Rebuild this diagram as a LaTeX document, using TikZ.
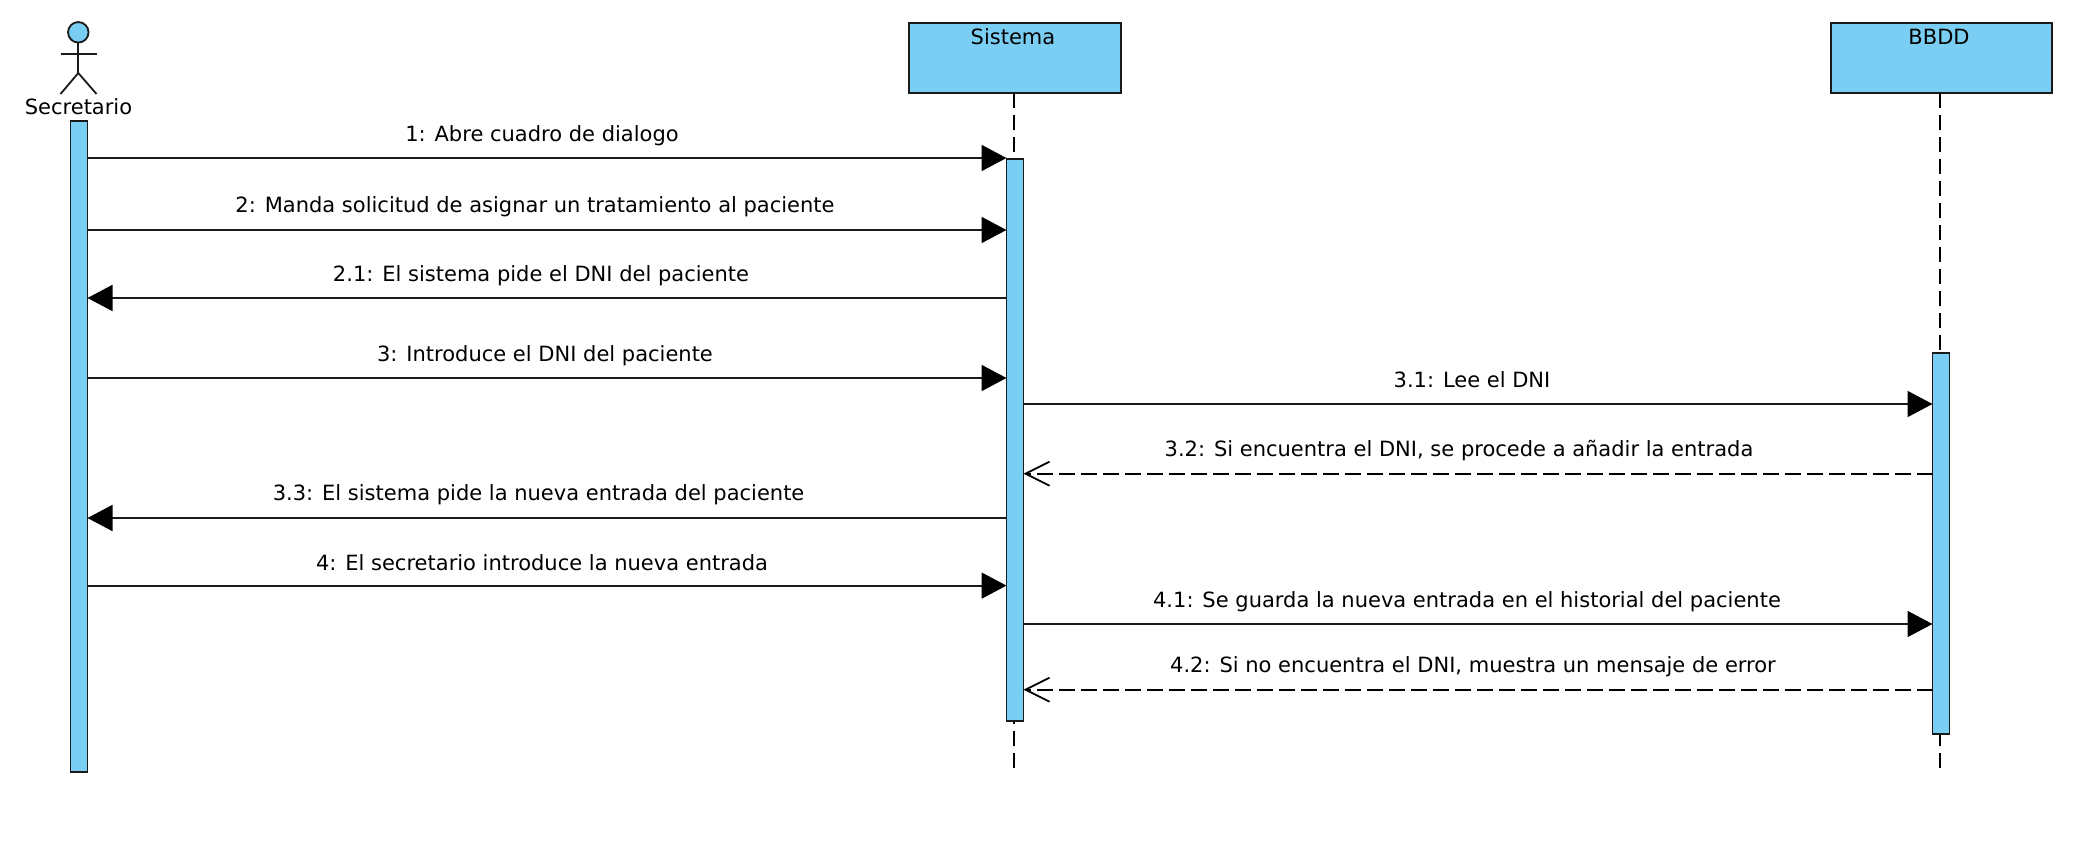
\documentclass[tikz,border=0pt]{standalone}
\usepackage{fontspec}
\setmainfont{DejaVu Sans}
\usetikzlibrary{arrows.meta}
\definecolor{umlblue}{HTML}{7ACEF4}
\definecolor{umlline}{HTML}{1A1A1A}
\tikzset{
  umlshape/.style={draw=umlline,line width=1.8pt,fill=umlblue,inner sep=0pt,outer sep=0pt,anchor=north west},
  headbox/.style={umlshape,minimum width=212pt,minimum height=70pt},
  bar/.style={umlshape,minimum width=17pt},
  lifeline/.style={draw=black,line width=1.8pt,dash pattern=on 15pt off 7pt},
  msg/.style={draw=umlline,line width=1.8pt,-{Triangle[length=25pt,width=26pt,color=black]}},
  reply/.style={draw=black,line width=1.8pt,dash pattern=on 16pt off 6pt,-{Straight Barb[length=24pt,width=24pt,line width=1.8pt]}},
  lab/.style={font=\fontsize{21}{24}\selectfont,inner sep=0pt,text=black},
  limb/.style={draw=umlline,line width=1.8pt}
}
\begin{document}
\begin{tikzpicture}[x=1pt,y=-1pt]
\useasboundingbox[fill=white] (0,0) rectangle (2078,846);
% participants
\node[circle,draw=umlline,line width=1.8pt,fill=umlblue,minimum size=20.5pt,inner sep=0pt] (head) at (78.3,32.3) {};
\coordinate (hip) at (78.3,73);
\coordinate (armL) at (60.5,54);
\coordinate (armR) at (96.5,54);
\coordinate (legL) at (60.5,94);
\coordinate (legR) at (96.5,94);
\draw[limb] (head.south) -- (hip);
\draw[limb] (armL) -- (armR);
\draw[limb] (legL) -- (hip) -- (legR);
\node[lab] (seclab) at (78.5,106.5) {Secretario};
\node[headbox] (sisbox) at (908.7,22.7) {};
\node[lab] at (1013,36.5) {Sistema};
\node[headbox,minimum width=221pt] (bdbox) at (1830.7,22.7) {};
\node[lab] at (1939,36.5) {BBDD};
% lifeline ends
\coordinate (sisend) at (1014,768);
\coordinate (bdend) at (1940,768);
\draw[lifeline] (sisbox.south -| sisend) -- (sisend);
\draw[lifeline] (bdbox.south -| bdend) -- (bdend);
% activation bars
\node[bar,minimum height=651pt] (secbar) at (70.5,120.7) {};
\node[bar,minimum height=562pt] (sisbar) at (1006.5,158.7) {};
\node[bar,minimum height=381pt] (bdbar) at (1932.5,352.7) {};
% message levels
\coordinate (m1) at (0,158);
\coordinate (m2) at (0,230);
\coordinate (m21) at (0,298);
\coordinate (m3) at (0,378);
\coordinate (m31) at (0,404);
\coordinate (m32) at (0,473.7);
\coordinate (m33) at (0,518);
\coordinate (m4) at (0,585.6);
\coordinate (m41) at (0,624);
\coordinate (m42) at (0,689.7);
% messages
\draw[msg] (secbar.east |- m1) -- (sisbar.west |- m1);
\draw[msg] (secbar.east |- m2) -- (sisbar.west |- m2);
\draw[msg] (sisbar.west |- m21) -- (secbar.east |- m21);
\draw[msg] (secbar.east |- m3) -- (sisbar.west |- m3);
\draw[msg] (sisbar.east |- m31) -- (bdbar.west |- m31);
\draw[reply] (bdbar.west |- m32) -- (sisbar.east |- m32);
\draw[msg] (sisbar.west |- m33) -- (secbar.east |- m33);
\draw[msg] (secbar.east |- m4) -- (sisbar.west |- m4);
\draw[msg] (sisbar.east |- m41) -- (bdbar.west |- m41);
\draw[reply] (bdbar.west |- m42) -- (sisbar.east |- m42);
% message labels
\node[lab] at (542,135.5) {1: Abre cuadro de dialogo};
\node[lab] at (535,206.5) {2: Manda solicitud de asignar un tratamiento al paciente};
\node[lab] at (541,275.5) {2.1: El sistema pide el DNI del paciente};
\node[lab] at (545,355.5) {3: Introduce el DNI del paciente};
\node[lab] at (1472,380) {3.1: Lee el DNI};
\node[lab] at (1459,450.5) {3.2: Si encuentra el DNI, se procede a añadir la entrada};
\node[lab] at (538.6,494.5) {3.3: El sistema pide la nueva entrada del paciente};
\node[lab] at (542,563) {4: El secretario introduce la nueva entrada};
\node[lab] at (1467,601.5) {4.1: Se guarda la nueva entrada en el historial del paciente};
\node[lab] at (1473,666.5) {4.2: Si no encuentra el DNI, muestra un mensaje de error};
\end{tikzpicture}
\end{document}
